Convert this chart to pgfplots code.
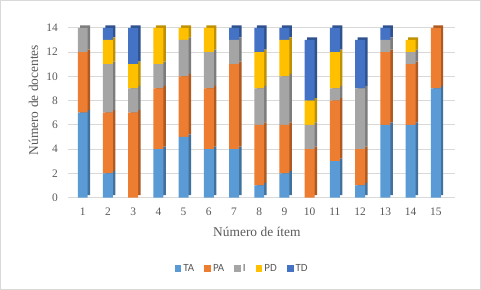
\documentclass[border=0pt]{standalone}
\usepackage{pgfplots}
\pgfplotsset{compat=1.18}
\usepackage{pgfplotstable}
\usepackage{fontspec}
\setmainfont{Liberation Serif}
\newfontfamily\legfont{Carlito}
\definecolor{cTA}{HTML}{5B9BD5}
\definecolor{cPA}{HTML}{ED7D31}
\definecolor{cI}{HTML}{A5A5A5}
\definecolor{cPD}{HTML}{FFC000}
\definecolor{cTD}{HTML}{4472C4}
\definecolor{dTA}{HTML}{41719C}
\definecolor{dPA}{HTML}{AE5A21}
\definecolor{dI}{HTML}{7C7C7C}
\definecolor{dPD}{HTML}{BF9000}
\definecolor{dTD}{HTML}{2F528F}
\definecolor{textgray}{HTML}{595959}
\definecolor{gridgray}{HTML}{D9D9D9}
\pgfplotstableread{
item TA PA I PD TD
1 7 5 2 0 0
2 2 5 4 2 1
3 0 7 2 2 3
4 4 5 2 3 0
5 5 5 3 1 0
6 4 5 3 2 0
7 4 7 2 0 1
8 1 5 3 3 2
9 2 4 4 3 1
10 0 4 2 2 5
11 3 5 1 3 2
12 1 3 5 0 4
13 6 6 1 0 1
14 6 5 1 1 0
15 9 5 0 0 0
}\datatable
\pgfplotsset{
  base/.style={scale only axis, width=387bp, height=170bp,
    xmin=0.426, xmax=15.75, ymin=0, ymax=14, clip=false,
    ybar stacked, bar width=10bp,
    axis line style={draw=none}, tick style={draw=none}},
  legsq/.style={legend image code/.code={\fill[##1] (0bp,-3.4bp) rectangle (6.8bp,3.4bp);}},
  shad/.style={draw=none, bar shift=2.5bp, yshift=2.5bp}
}
\begin{document}
\begin{tikzpicture}
\begin{axis}[base,
  ytick={0,2,...,14}, xtick={1,...,15},
  ymajorgrids, grid style={color=gridgray, line width=0.75bp},
  /pgf/number format/assume math mode=true,
  tick label style={font=\fontsize{11.5}{13}\selectfont, text=textgray},
  yticklabel style={xshift=-7bp},
  xticklabel style={yshift=-7bp},
  xlabel={Número de ítem}, ylabel={Número de docentes},
  label style={font=\fontsize{13.5}{15}\selectfont, text=textgray},
  xlabel style={at={(rel axis cs:0.488,-0.205)}, anchor=center},
  ylabel style={at={(rel axis cs:-0.09,0.574)}, anchor=center},
]
\addplot[shad, fill=dTA] table[x=item,y=TA]{\datatable};
\addplot[shad, fill=dPA] table[x=item,y=PA]{\datatable};
\addplot[shad, fill=dI] table[x=item,y=I]{\datatable};
\addplot[shad, fill=dPD] table[x=item,y=PD]{\datatable};
\addplot[shad, fill=dTD] table[x=item,y=TD]{\datatable};
\end{axis}
\begin{axis}[base, xtick=\empty, ytick=\empty,
  legend style={at={(0.45,-0.42)}, anchor=center, draw=none, fill=none,
    legend columns=-1, font=\legfont\fontsize{11}{12}\selectfont, text=textgray,
    /tikz/every even column/.append style={column sep=8bp}},
]
\addplot[legsq, fill=cTA, draw=none] table[x=item,y=TA]{\datatable};
\addplot[legsq, fill=cPA, draw=none] table[x=item,y=PA]{\datatable};
\addplot[legsq, fill=cI, draw=none] table[x=item,y=I]{\datatable};
\addplot[legsq, fill=cPD, draw=none] table[x=item,y=PD]{\datatable};
\addplot[legsq, fill=cTD, draw=none] table[x=item,y=TD]{\datatable};
\legend{TA,PA,I,PD,TD}
\end{axis}
\draw[color=gridgray, line width=0.75bp] (-68bp,-91.5bp) rectangle (413bp,197.5bp);
\end{tikzpicture}
\end{document}
